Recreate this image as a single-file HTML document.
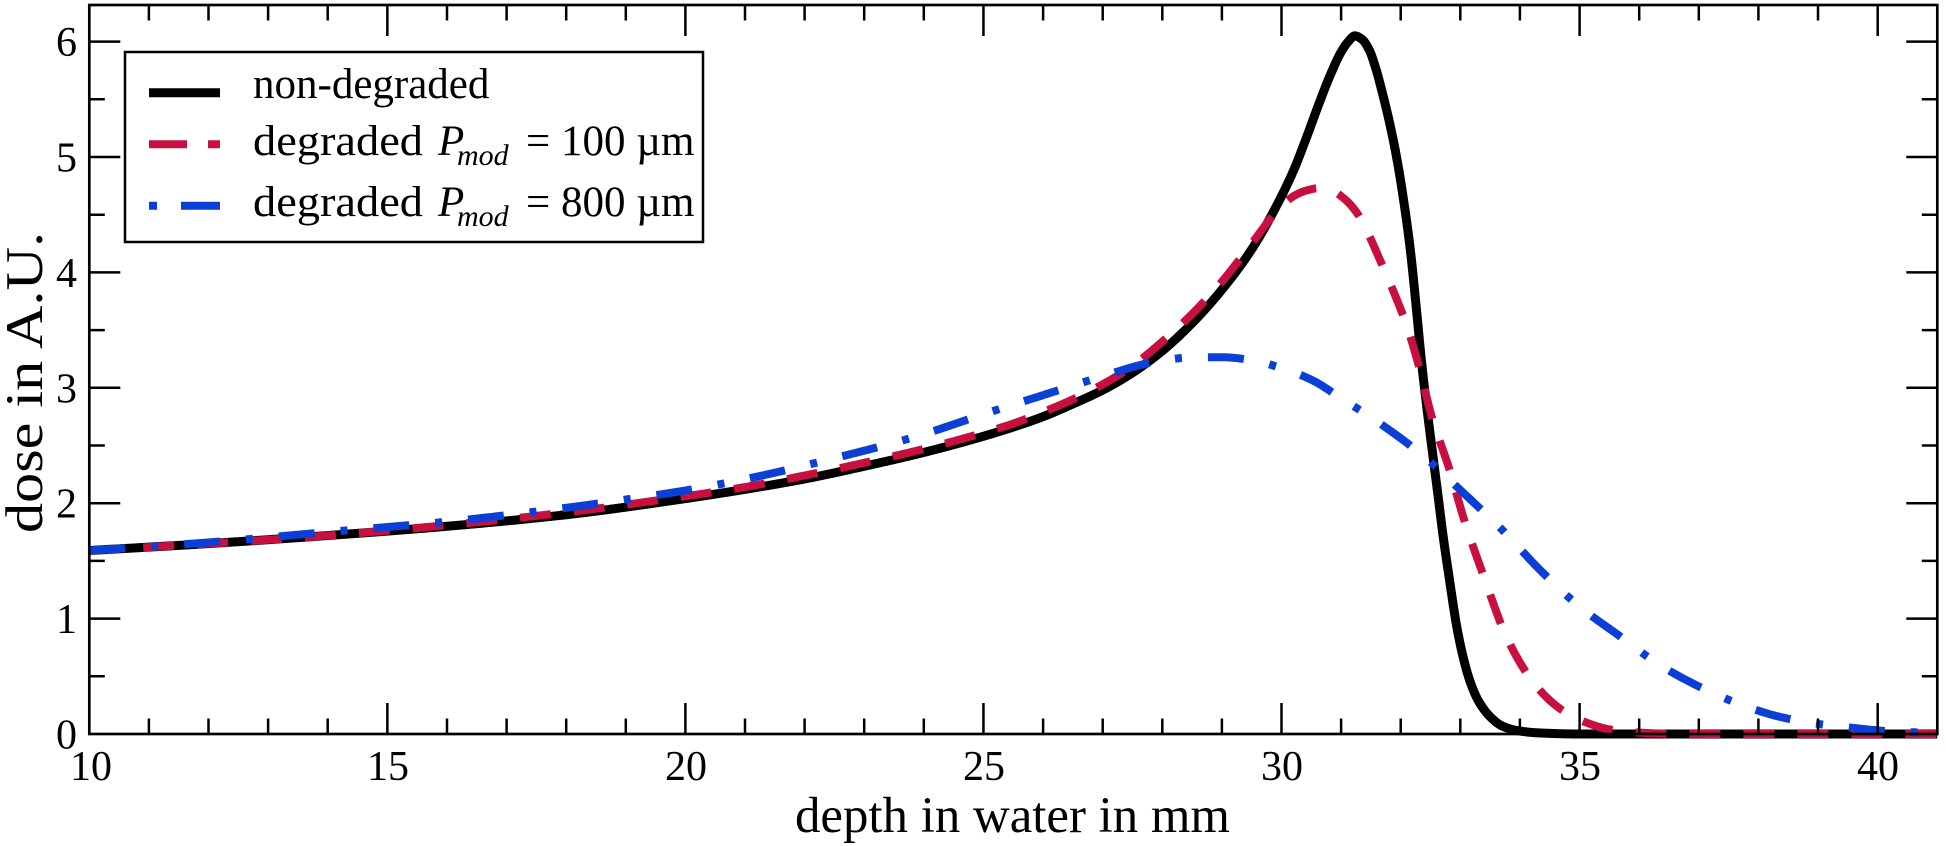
<!DOCTYPE html>
<html>
<head>
<meta charset="utf-8">
<style>
  html, body { margin:0; padding:0; background:#ffffff; }
  body { width:1946px; height:846px; overflow:hidden; }
  svg { display:block; }
  svg text, svg tspan { font-family: "Liberation Serif", "DejaVu Serif", serif; fill:#000; }
</style>
</head>
<body>
<svg id="chart" width="1946" height="846" viewBox="0 0 1946 846" xmlns="http://www.w3.org/2000/svg" font-family="Liberation Serif, DejaVu Serif, serif">
  <rect x="0" y="0" width="1946" height="846" fill="#ffffff"/>

  <!-- curves (filled by script) -->
  <g id="curves" fill="none" stroke-linejoin="round">
    <path id="cBlack" stroke="#000000" stroke-width="9" stroke-linecap="butt" d=""/>
    <path id="cRed" stroke="#c81040" stroke-width="8" stroke-dasharray="31 23" stroke-linecap="butt" d=""/>
    <path id="cBlue" stroke="#0b3fd6" stroke-width="8" stroke-dasharray="36 26 7 26" stroke-linecap="butt" d=""/>
  </g>

  <!-- frame -->
  <rect x="89.3" y="5" width="1848" height="729" fill="none" stroke="#000" stroke-width="2.7"/>

  <!-- x ticks bottom -->
  <path stroke="#000" stroke-width="2.5" fill="none" d="
    M148.9 734 v-15.5 M208.5 734 v-15.5 M268.1 734 v-15.5 M327.7 734 v-15.5
    M387.35 734 v-31
    M447.0 734 v-15.5 M506.6 734 v-15.5 M566.2 734 v-15.5 M625.8 734 v-15.5
    M685.4 734 v-31
    M745.0 734 v-15.5 M804.6 734 v-15.5 M864.2 734 v-15.5 M923.8 734 v-15.5
    M983.45 734 v-31
    M1043.1 734 v-15.5 M1102.7 734 v-15.5 M1162.3 734 v-15.5 M1221.9 734 v-15.5
    M1281.5 734 v-31
    M1341.1 734 v-15.5 M1400.7 734 v-15.5 M1460.3 734 v-15.5 M1519.9 734 v-15.5
    M1579.6 734 v-31
    M1639.2 734 v-15.5 M1698.8 734 v-15.5 M1758.4 734 v-15.5 M1818.0 734 v-15.5
    M1877.7 734 v-31
  "/>
  <!-- x ticks top -->
  <path stroke="#000" stroke-width="2.5" fill="none" d="
    M148.9 5 v15.5 M208.5 5 v15.5 M268.1 5 v15.5 M327.7 5 v15.5
    M387.35 5 v31
    M447.0 5 v15.5 M506.6 5 v15.5 M566.2 5 v15.5 M625.8 5 v15.5
    M685.4 5 v31
    M745.0 5 v15.5 M804.6 5 v15.5 M864.2 5 v15.5 M923.8 5 v15.5
    M983.45 5 v31
    M1043.1 5 v15.5 M1102.7 5 v15.5 M1162.3 5 v15.5 M1221.9 5 v15.5
    M1281.5 5 v31
    M1341.1 5 v15.5 M1400.7 5 v15.5 M1460.3 5 v15.5 M1519.9 5 v15.5
    M1579.6 5 v31
    M1639.2 5 v15.5 M1698.8 5 v15.5 M1758.4 5 v15.5 M1818.0 5 v15.5
    M1877.7 5 v31
  "/>
  <!-- y ticks left -->
  <path stroke="#000" stroke-width="2.5" fill="none" d="
    M89.3 676.3 h15.5 M89.3 618.6 h31 M89.3 560.9 h15.5 M89.3 503.2 h31
    M89.3 445.5 h15.5 M89.3 387.8 h31 M89.3 330.1 h15.5 M89.3 272.4 h31
    M89.3 214.7 h15.5 M89.3 157.0 h31 M89.3 99.3 h15.5 M89.3 41.6 h31
  "/>
  <!-- y ticks right -->
  <path stroke="#000" stroke-width="2.5" fill="none" d="
    M1937.3 676.3 h-15.5 M1937.3 618.6 h-31 M1937.3 560.9 h-15.5 M1937.3 503.2 h-31
    M1937.3 445.5 h-15.5 M1937.3 387.8 h-31 M1937.3 330.1 h-15.5 M1937.3 272.4 h-31
    M1937.3 214.7 h-15.5 M1937.3 157.0 h-31 M1937.3 99.3 h-15.5 M1937.3 41.6 h-31
  "/>

  <!-- y tick labels -->
  <g font-size="42" text-anchor="end">
    <text x="77" y="748.5">0</text>
    <text x="77" y="633.1">1</text>
    <text x="77" y="517.7">2</text>
    <text x="77" y="402.3">3</text>
    <text x="77" y="286.9">4</text>
    <text x="77" y="171.5">5</text>
    <text x="77" y="56.1">6</text>
  </g>

  <!-- x tick labels -->
  <g font-size="42" text-anchor="middle">
    <text x="91" y="780">10</text>
    <text x="388" y="780">15</text>
    <text x="686" y="780">20</text>
    <text x="984" y="780">25</text>
    <text x="1282" y="780">30</text>
    <text x="1580" y="780">35</text>
    <text x="1878" y="780">40</text>
  </g>

  <!-- axis titles -->
  <text x="795" y="832" font-size="51" textLength="435" lengthAdjust="spacingAndGlyphs">depth in water in mm</text>
  <text transform="translate(42,533) rotate(-90)" font-size="53" textLength="301" lengthAdjust="spacingAndGlyphs">dose in A.U.</text>

  <!-- legend -->
  <rect x="125" y="52" width="578" height="190" fill="#ffffff" stroke="#000" stroke-width="2.5"/>
  <line x1="149" y1="92.7" x2="220" y2="92.7" stroke="#000" stroke-width="9"/>
  <line x1="149" y1="144.3" x2="220" y2="144.3" stroke="#c81040" stroke-width="8" stroke-dasharray="38 21"/>
  <line x1="149" y1="205.7" x2="220" y2="205.7" stroke="#0b3fd6" stroke-width="8" stroke-dasharray="8 24 39 24"/>

  <g font-size="43">
    <text x="253" y="98">non-degraded</text>

    <text x="253" y="155" textLength="170" lengthAdjust="spacingAndGlyphs">degraded</text>
    <text x="438" y="155" font-style="italic">P</text>
    <text x="457" y="165" font-style="italic" font-size="30">mod</text>
    <text x="526" y="155">= 100 µm</text>

    <text x="253" y="216" textLength="170" lengthAdjust="spacingAndGlyphs">degraded</text>
    <text x="438" y="216" font-style="italic">P</text>
    <text x="457" y="226" font-style="italic" font-size="30">mod</text>
    <text x="526" y="216">= 800 µm</text>
  </g>
</svg>

<script>
(function(){
  function X(x){ return 89.3 + (x-10)*59.61; }
  function Y(y){ return 734 - y*115.4; }

  function mono(pts){
    var n = pts.length, xs = [], ys = [], d = [], m = [], i;
    for(i=0;i<n;i++){ xs.push(pts[i][0]); ys.push(pts[i][1]); }
    for(i=0;i<n-1;i++){ d.push((ys[i+1]-ys[i])/(xs[i+1]-xs[i])); }
    m[0] = d[0]; m[n-1] = d[n-2];
    for(i=1;i<n-1;i++){
      if(d[i-1]*d[i] <= 0) m[i] = 0;
      else {
        var h0 = xs[i]-xs[i-1], h1 = xs[i+1]-xs[i];
        var w1 = 2*h1+h0, w2 = h1+2*h0;
        m[i] = (w1+w2)/(w1/d[i-1] + w2/d[i]);
      }
    }
    for(i=0;i<n-1;i++){
      if(d[i]===0){ m[i]=0; m[i+1]=0; continue; }
      var a = m[i]/d[i], b = m[i+1]/d[i], s = a*a+b*b;
      if(s>9){ var t = 3/Math.sqrt(s); m[i]=t*a*d[i]; m[i+1]=t*b*d[i]; }
    }
    return function(x){
      var k = 0;
      if(x<=xs[0]) return ys[0];
      if(x>=xs[n-1]) return ys[n-1];
      while(k<n-2 && x>xs[k+1]) k++;
      var h = xs[k+1]-xs[k], t = (x-xs[k])/h;
      var t2=t*t, t3=t2*t;
      var h00=2*t3-3*t2+1, h10=t3-2*t2+t, h01=-2*t3+3*t2, h11=t3-t2;
      return h00*ys[k] + h10*h*m[k] + h01*ys[k+1] + h11*h*m[k+1];
    };
  }

  function build(pts){
    var f = mono(pts), s = [], x;
    for(x=10; x<=41.0001; x+=0.02){
      var y = f(x); if(y<0) y=0;
      s.push((s.length?'L':'M') + X(x).toFixed(2) + ' ' + Y(y).toFixed(2));
    }
    return s.join(' ');
  }

  var black = [[10,1.59],[12,1.65],[14,1.72],[16,1.80],[18,1.90],[20,2.04],[21,2.12],[22,2.21],[23,2.32],[24,2.44],[25,2.58],[25.5,2.66],[26,2.75],[26.5,2.86],[27,2.98],[27.5,3.13],[28,3.32],[28.5,3.56],[29,3.85],[29.5,4.20],[29.92,4.58],[30.2,4.88],[30.42,5.17],[30.62,5.45],[30.81,5.70],[31.0,5.91],[31.12,6.00],[31.23,6.05],[31.35,6.02],[31.47,5.93],[31.58,5.77],[31.70,5.54],[31.82,5.28],[31.93,5.00],[32.05,4.62],[32.16,4.20],[32.26,3.70],[32.35,3.22],[32.45,2.78],[32.55,2.37],[32.63,2.05],[32.71,1.72],[32.82,1.33],[32.94,0.93],[33.05,0.66],[33.16,0.46],[33.3,0.29],[33.5,0.15],[33.7,0.07],[33.95,0.03],[34.3,0.01],[35,0],[41,0]];

  var red = [[10,1.59],[12,1.65],[14,1.72],[16,1.81],[18,1.92],[20,2.06],[21,2.14],[22,2.24],[23,2.35],[24,2.47],[25,2.61],[25.5,2.69],[26,2.79],[26.5,2.90],[27,3.03],[27.5,3.19],[28,3.40],[28.5,3.64],[29,3.92],[29.5,4.25],[29.92,4.53],[30.2,4.66],[30.42,4.71],[30.63,4.73],[30.84,4.71],[31.05,4.64],[31.26,4.52],[31.45,4.34],[31.65,4.11],[31.93,3.77],[32.10,3.54],[32.32,3.16],[32.52,2.75],[32.80,2.32],[33.08,1.83],[33.39,1.37],[33.75,0.87],[34.0,0.62],[34.28,0.41],[34.7,0.21],[35.11,0.10],[35.5,0.04],[35.9,0.015],[36.5,0.003],[37.5,0],[41,0]];

  var blue = [[10,1.59],[12,1.66],[14,1.75],[16,1.84],[18,1.96],[19.24,2.05],[20,2.11],[21.2,2.23],[22.5,2.39],[23.82,2.57],[25.17,2.80],[26.45,3.01],[27.12,3.12],[27.74,3.21],[28.4,3.26],[29.0,3.265],[29.5,3.24],[30.0,3.17],[30.5,3.07],[31.0,2.91],[31.71,2.67],[32.38,2.41],[33.05,2.09],[33.72,1.76],[34.34,1.42],[35.01,1.10],[35.67,0.85],[36.34,0.60],[37.01,0.41],[37.63,0.27],[38.35,0.15],[38.97,0.09],[39.64,0.05],[40.31,0.02],[41,0.01]];

  document.getElementById('cBlack').setAttribute('d', build(black));
  document.getElementById('cRed').setAttribute('d', build(red));
  document.getElementById('cBlue').setAttribute('d', build(blue));
})();
</script>
</body>
</html>
